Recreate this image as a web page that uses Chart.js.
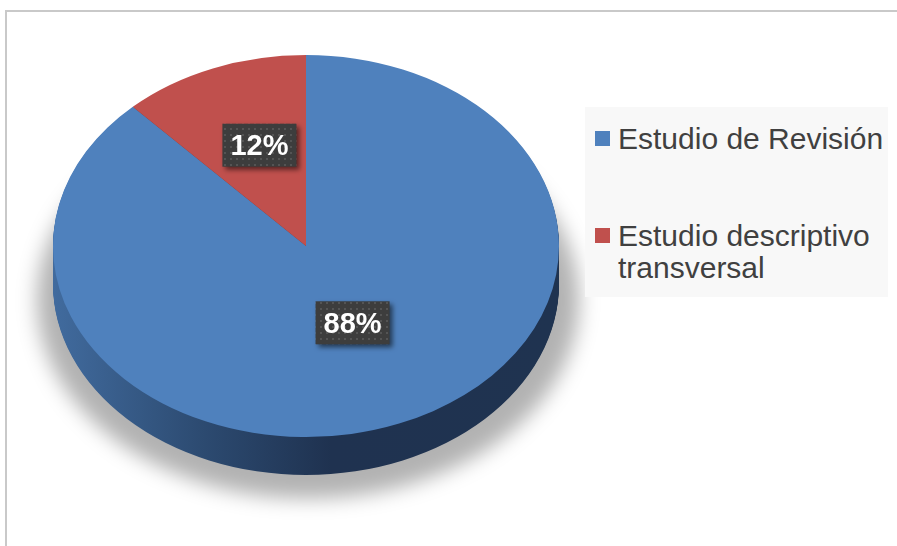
<!DOCTYPE html>
<html>
<head>
<meta charset="utf-8">
<script src="https://cdn.jsdelivr.net/npm/chart.js@4.4.0/dist/chart.umd.min.js"></script>
<style>
  body { margin: 0; background: #fff; }
  #wrap { position: relative; width: 897px; height: 546px; overflow: hidden; font-family: "Liberation Sans", Arial, sans-serif; }
  #frame { position: absolute; left: 5px; top: 10px; width: 900px; height: 560px; border: 2px solid #c9c9c9; }
  #chart { position: absolute; left: 0; top: 0; }
  #legend { position: absolute; left: 585px; top: 107px; width: 303px; height: 190px; background: #f8f8f8; }
  .item { position: absolute; left: 33px; font-size: 30px; line-height: 32px; color: #404040; white-space: nowrap; }
  .mark { position: absolute; left: -23px; top: 8px; width: 15px; height: 15px; }
</style>
</head>
<body>
<div id="wrap">
  <div id="frame"></div>
  <canvas id="chart" width="897" height="546"></canvas>
  <div id="legend"></div>
</div>
<script>
var categories = ['Estudio de Revisión', 'Estudio descriptivo\ntransversal'];
var values = [88, 12];
var colors = ['#4f81bd', '#c0504d'];
var sideColors = ['#2a4468', '#7a2f2d'];

// ellipse look of the excel 3d pie
var squash = 0.755;
var screenCy = 246;
var depth = 38;

// html legend
var legend = document.getElementById('legend');
var tops = [16, 113];
categories.forEach(function (c, i) {
    var d = document.createElement('div');
    d.className = 'item';
    d.style.top = tops[i] + 'px';
    d.innerHTML = '<span class="mark" style="background:' + colors[i] + '"></span>' + c.replace('\n', '<br>');
    legend.appendChild(d);
});

function arcPath(ctx, el, dy) {
    ctx.beginPath();
    ctx.moveTo(el.x, el.y + dy);
    ctx.arc(el.x, el.y + dy, el.outerRadius, el.startAngle, el.endAngle);
    ctx.closePath();
}

var pie3d = {
    id: 'pie3d',
    beforeDatasetsDraw: function (chart) {
        var ctx = chart.ctx;
        var meta = chart.getDatasetMeta(0);
        var el0 = meta.data[0];
        ctx.save();
        ctx.translate(el0.x, screenCy);
        ctx.scale(1, squash);
        ctx.translate(-el0.x, -el0.y);

        // soft shadow
        ctx.save();
        ctx.filter = 'blur(10px)';
        ctx.fillStyle = 'rgba(0,0,0,0.3)';
        ctx.beginPath();
        ctx.ellipse(el0.x + 2, el0.y + (depth + 16) / squash, el0.outerRadius + 18, el0.outerRadius + 10, 0, 0, Math.PI * 2);
        ctx.fill();
        ctx.restore();

        // side of the pie
        var r = el0.outerRadius;
        var grad = ctx.createLinearGradient(el0.x - r, 0, el0.x + r, 0);
        grad.addColorStop(0, '#416b9e');
        grad.addColorStop(0.3, '#2c4a70');
        grad.addColorStop(0.55, '#1f3250');
        grad.addColorStop(1, '#1f3350');
        for (var d = depth; d > 0; d -= 1) {
            meta.data.forEach(function (el, i) {
                ctx.fillStyle = i === 0 ? grad : sideColors[i];
                arcPath(ctx, el, d / squash);
                ctx.fill();
            });
        }
    },
    afterDatasetsDraw: function (chart) {
        chart.ctx.restore();
        drawLabels(chart);
    }
};

// dotted dark box for the data labels
var pat = document.createElement('canvas');
pat.width = 6; pat.height = 6;
var pctx = pat.getContext('2d');
pctx.fillStyle = '#3d3d3d';
pctx.fillRect(0, 0, 6, 6);
pctx.fillStyle = '#545454';
pctx.fillRect(2, 2, 2, 2);

function drawLabels(chart) {
    var ctx = chart.ctx;
    var meta = chart.getDatasetMeta(0);
    var total = values.reduce(function (a, b) { return a + b; }, 0);
    meta.data.forEach(function (el, i) {
        var p = el.tooltipPosition();
        var x = p.x;
        var y = screenCy + (p.y - el.y) * squash - 12;
        var txt = Math.round(values[i] / total * 100) + '%';
        ctx.save();
        ctx.font = 'bold 29px "Liberation Sans", Arial, sans-serif';
        var w = ctx.measureText(txt).width + 16;
        var h = 43;
        ctx.shadowColor = 'rgba(0,0,0,0.55)';
        ctx.shadowBlur = 5;
        ctx.shadowOffsetX = 3;
        ctx.shadowOffsetY = 3;
        ctx.fillStyle = ctx.createPattern(pat, 'repeat');
        ctx.fillRect(x - w / 2, y - h / 2, w, h);
        ctx.shadowColor = 'transparent';
        ctx.fillStyle = '#ffffff';
        ctx.textAlign = 'center';
        ctx.textBaseline = 'middle';
        ctx.fillText(txt, x, y + 2);
        ctx.restore();
    });
}

new Chart(document.getElementById('chart'), {
    type: 'pie',
    data: {
        labels: categories,
        datasets: [{
            data: values,
            backgroundColor: colors,
            borderWidth: 0
        }]
    },
    options: {
        responsive: false,
        animation: false,
        events: [],
        layout: { padding: { left: 53, right: 338, top: 0, bottom: 0 } },
        plugins: {
            legend: { display: false },
            tooltip: { enabled: false }
        }
    },
    plugins: [pie3d]
});
</script>
</body>
</html>
